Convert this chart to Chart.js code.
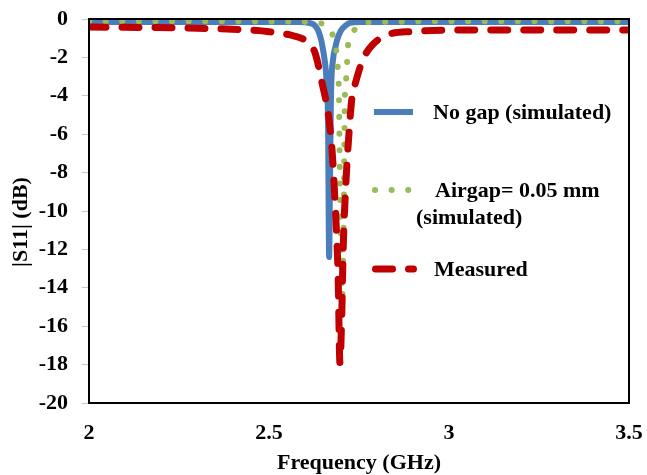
<!DOCTYPE html>
<html>
<head>
<meta charset="utf-8">
<script src="https://cdn.jsdelivr.net/npm/chart.js@4.4.0/dist/chart.umd.min.js"></script>
<style>
  html, body { margin: 0; padding: 0; background: #fff; }
  #wrap { width: 647px; height: 475px; position: relative; }
</style>
</head>
<body>
<div id="wrap"><canvas id="c"></canvas></div>
<script>
// Frequency (GHz) / |S11| (dB)
const noGapFreq = [2.0, 2.3, 2.5, 2.58, 2.61, 2.625, 2.636, 2.645, 2.65, 2.655, 2.658, 2.661, 2.664, 2.667,
  2.669, 2.672, 2.678, 2.684, 2.689, 2.700, 2.712, 2.725, 2.76, 2.85, 3.0, 3.5];
const noGapDb = [-0.15, -0.15, -0.15, -0.16, -0.2, -0.3, -0.57, -1.1, -1.6, -2.2, -2.7, -3.8, -5.3, -12.4,
  -9.4, -4.2, -2.1, -1.5, -1.1, -0.6, -0.35, -0.2, -0.16, -0.15, -0.15, -0.15];

const airgapFreq = [2.0, 2.4, 2.55, 2.61, 2.636, 2.661, 2.675, 2.683, 2.689, 2.692, 2.694, 2.697, 2.700, 2.703,
  2.706, 2.708, 2.711, 2.714, 2.717, 2.719, 2.725, 2.733, 2.75, 2.767, 2.82, 3.0, 3.5];
const airgapDb = [-0.12, -0.12, -0.13, -0.15, -0.2, -0.36, -0.75, -1.2, -2.0, -2.8, -3.7, -8.4, -12, -14.9,
  -12.5, -9.4, -4.0, -3.2, -2.3, -1.5, -1.0, -0.68, -0.35, -0.2, -0.14, -0.12, -0.12];

const measFreq = [2.0, 2.3, 2.45, 2.5, 2.558, 2.6, 2.614, 2.628, 2.647, 2.665, 2.675, 2.683, 2.692, 2.697,
  2.702, 2.706, 2.714, 2.722, 2.731, 2.739, 2.761, 2.79, 2.828, 2.9, 3.0, 3.5];
const measDb = [-0.42, -0.48, -0.58, -0.66, -0.83, -1.1, -1.35, -1.77, -3.3, -5.0, -6.8, -9.4, -13.4, -17.9,
  -15.5, -12.0, -8.4, -6.0, -4.0, -3.4, -2.1, -1.3, -0.83, -0.65, -0.58, -0.57];

const xTicks = [2, 2.5, 3, 3.5];
const yTicks = [0, -2, -4, -6, -8, -10, -12, -14, -16, -18, -20];

const FONT = '"Liberation Serif", "Times New Roman", serif';
const BOLD = 'bold 22px ' + FONT;
const toPoints = (xs, ys) => xs.map((x, i) => ({ x: x, y: ys[i] }));

// Legend drawn inside the plot, Excel style
const legendPlugin = {
  id: 'insideLegend',
  afterDraw(chart) {
    const ctx = chart.ctx;
    const ds = chart.data.datasets;
    const items = [
      { d: ds[0], y: 112, x0: 374, x1: 413, tx: 433, lines: ['No gap (simulated)'] },
      { d: ds[1], y: 190, x0: 375, x1: 410, tx: 435, lines: ['Airgap= 0.05 mm', '(simulated)'] },
      { d: ds[2], y: 269, x0: 375.5, x1: 413.5, tx: 434, lines: ['Measured'] },
    ];
    ctx.save();
    items.forEach(it => {
      ctx.beginPath();
      ctx.strokeStyle = it.d.borderColor;
      ctx.lineWidth = it.d.borderWidth;
      ctx.lineCap = it.d.borderCapStyle || 'butt';
      ctx.setLineDash(it.d.borderDash || []);
      ctx.moveTo(it.x0, it.y);
      ctx.lineTo(it.x1, it.y);
      ctx.stroke();
      ctx.setLineDash([]);
      ctx.fillStyle = '#000';
      ctx.font = BOLD;
      ctx.textBaseline = 'middle';
      ctx.fillText(it.lines[0], it.tx, it.y + 1);
      if (it.lines[1]) ctx.fillText(it.lines[1], 416, it.y + 28);
    });
    ctx.restore();
  }
};

// Black box round the plot area plus the axis titles
const framePlugin = {
  id: 'frame',
  afterDatasetsDraw(chart) {
    const a = chart.chartArea;
    const ctx = chart.ctx;
    ctx.save();
    ctx.strokeStyle = '#000';
    ctx.lineWidth = 2;
    ctx.strokeRect(a.left, a.top, a.right - a.left, a.bottom - a.top);
    ctx.restore();
  },
  afterDraw(chart) {
    const a = chart.chartArea;
    const ctx = chart.ctx;
    ctx.save();
    ctx.fillStyle = '#000';
    ctx.font = BOLD;
    ctx.textAlign = 'center';
    ctx.textBaseline = 'middle';
    ctx.fillText('Frequency (GHz)', (a.left + a.right) / 2, 463);
    ctx.translate(21, 222);
    ctx.rotate(-Math.PI / 2);
    ctx.fillText('|S11| (dB)', 0, 0);
    ctx.restore();
  }
};

new Chart(document.getElementById('c'), {
  type: 'line',
  data: {
    datasets: [
      {
        label: 'No gap (simulated)',
        data: toPoints(noGapFreq, noGapDb),
        borderColor: '#4a7ebb',
        borderWidth: 6,
        pointRadius: 0,
        cubicInterpolationMode: 'monotone',
        order: 3,
      },
      {
        label: 'Airgap= 0.05 mm (simulated)',
        data: toPoints(airgapFreq, airgapDb),
        borderColor: '#9bbb59',
        borderWidth: 6,
        borderDash: [0.1, 16.5],
        borderCapStyle: 'round',
        pointRadius: 0,
        cubicInterpolationMode: 'monotone',
        order: 2,
      },
      {
        label: 'Measured',
        data: toPoints(measFreq, measDb),
        borderColor: '#c00000',
        borderWidth: 7,
        borderDash: [17, 16],
        borderCapStyle: 'round',
        pointRadius: 0,
        cubicInterpolationMode: 'monotone',
        order: 1,
      },
    ],
  },
  options: {
    responsive: true,
    maintainAspectRatio: false,
    animation: false,
    layout: { padding: { top: 19, right: 18, bottom: 0, left: 0 } },
    plugins: {
      legend: { display: false },
      tooltip: { enabled: false },
    },
    scales: {
      x: {
        type: 'linear',
        min: 2,
        max: 3.5,
        afterBuildTicks: s => { s.ticks = xTicks.map(v => ({ value: v })); },
        afterFit: s => { s.height = 72; s.paddingLeft = 0; s.paddingRight = 0; },
        grid: { display: true, drawOnChartArea: false, drawTicks: false },
        border: { display: false },
        ticks: {
          color: '#000', font: { family: FONT, size: 22, weight: 'bold' }, padding: 17, maxRotation: 0,
          callback: v => String(v),
        },
      },
      y: {
        min: -20,
        max: 0,
        afterBuildTicks: s => { s.ticks = yTicks.map(v => ({ value: v })); },
        afterFit: s => { s.width = 89; s.paddingTop = 0; s.paddingBottom = 0; },
        grid: { display: true, drawOnChartArea: false, drawTicks: true, tickLength: 7, color: '#c8c8c8' },
        border: { display: false },
        ticks: { color: '#000', font: { family: FONT, size: 22, weight: 'bold' }, padding: 14 },
      },
    },
  },
  plugins: [framePlugin, legendPlugin],
});
</script>
</body>
</html>
